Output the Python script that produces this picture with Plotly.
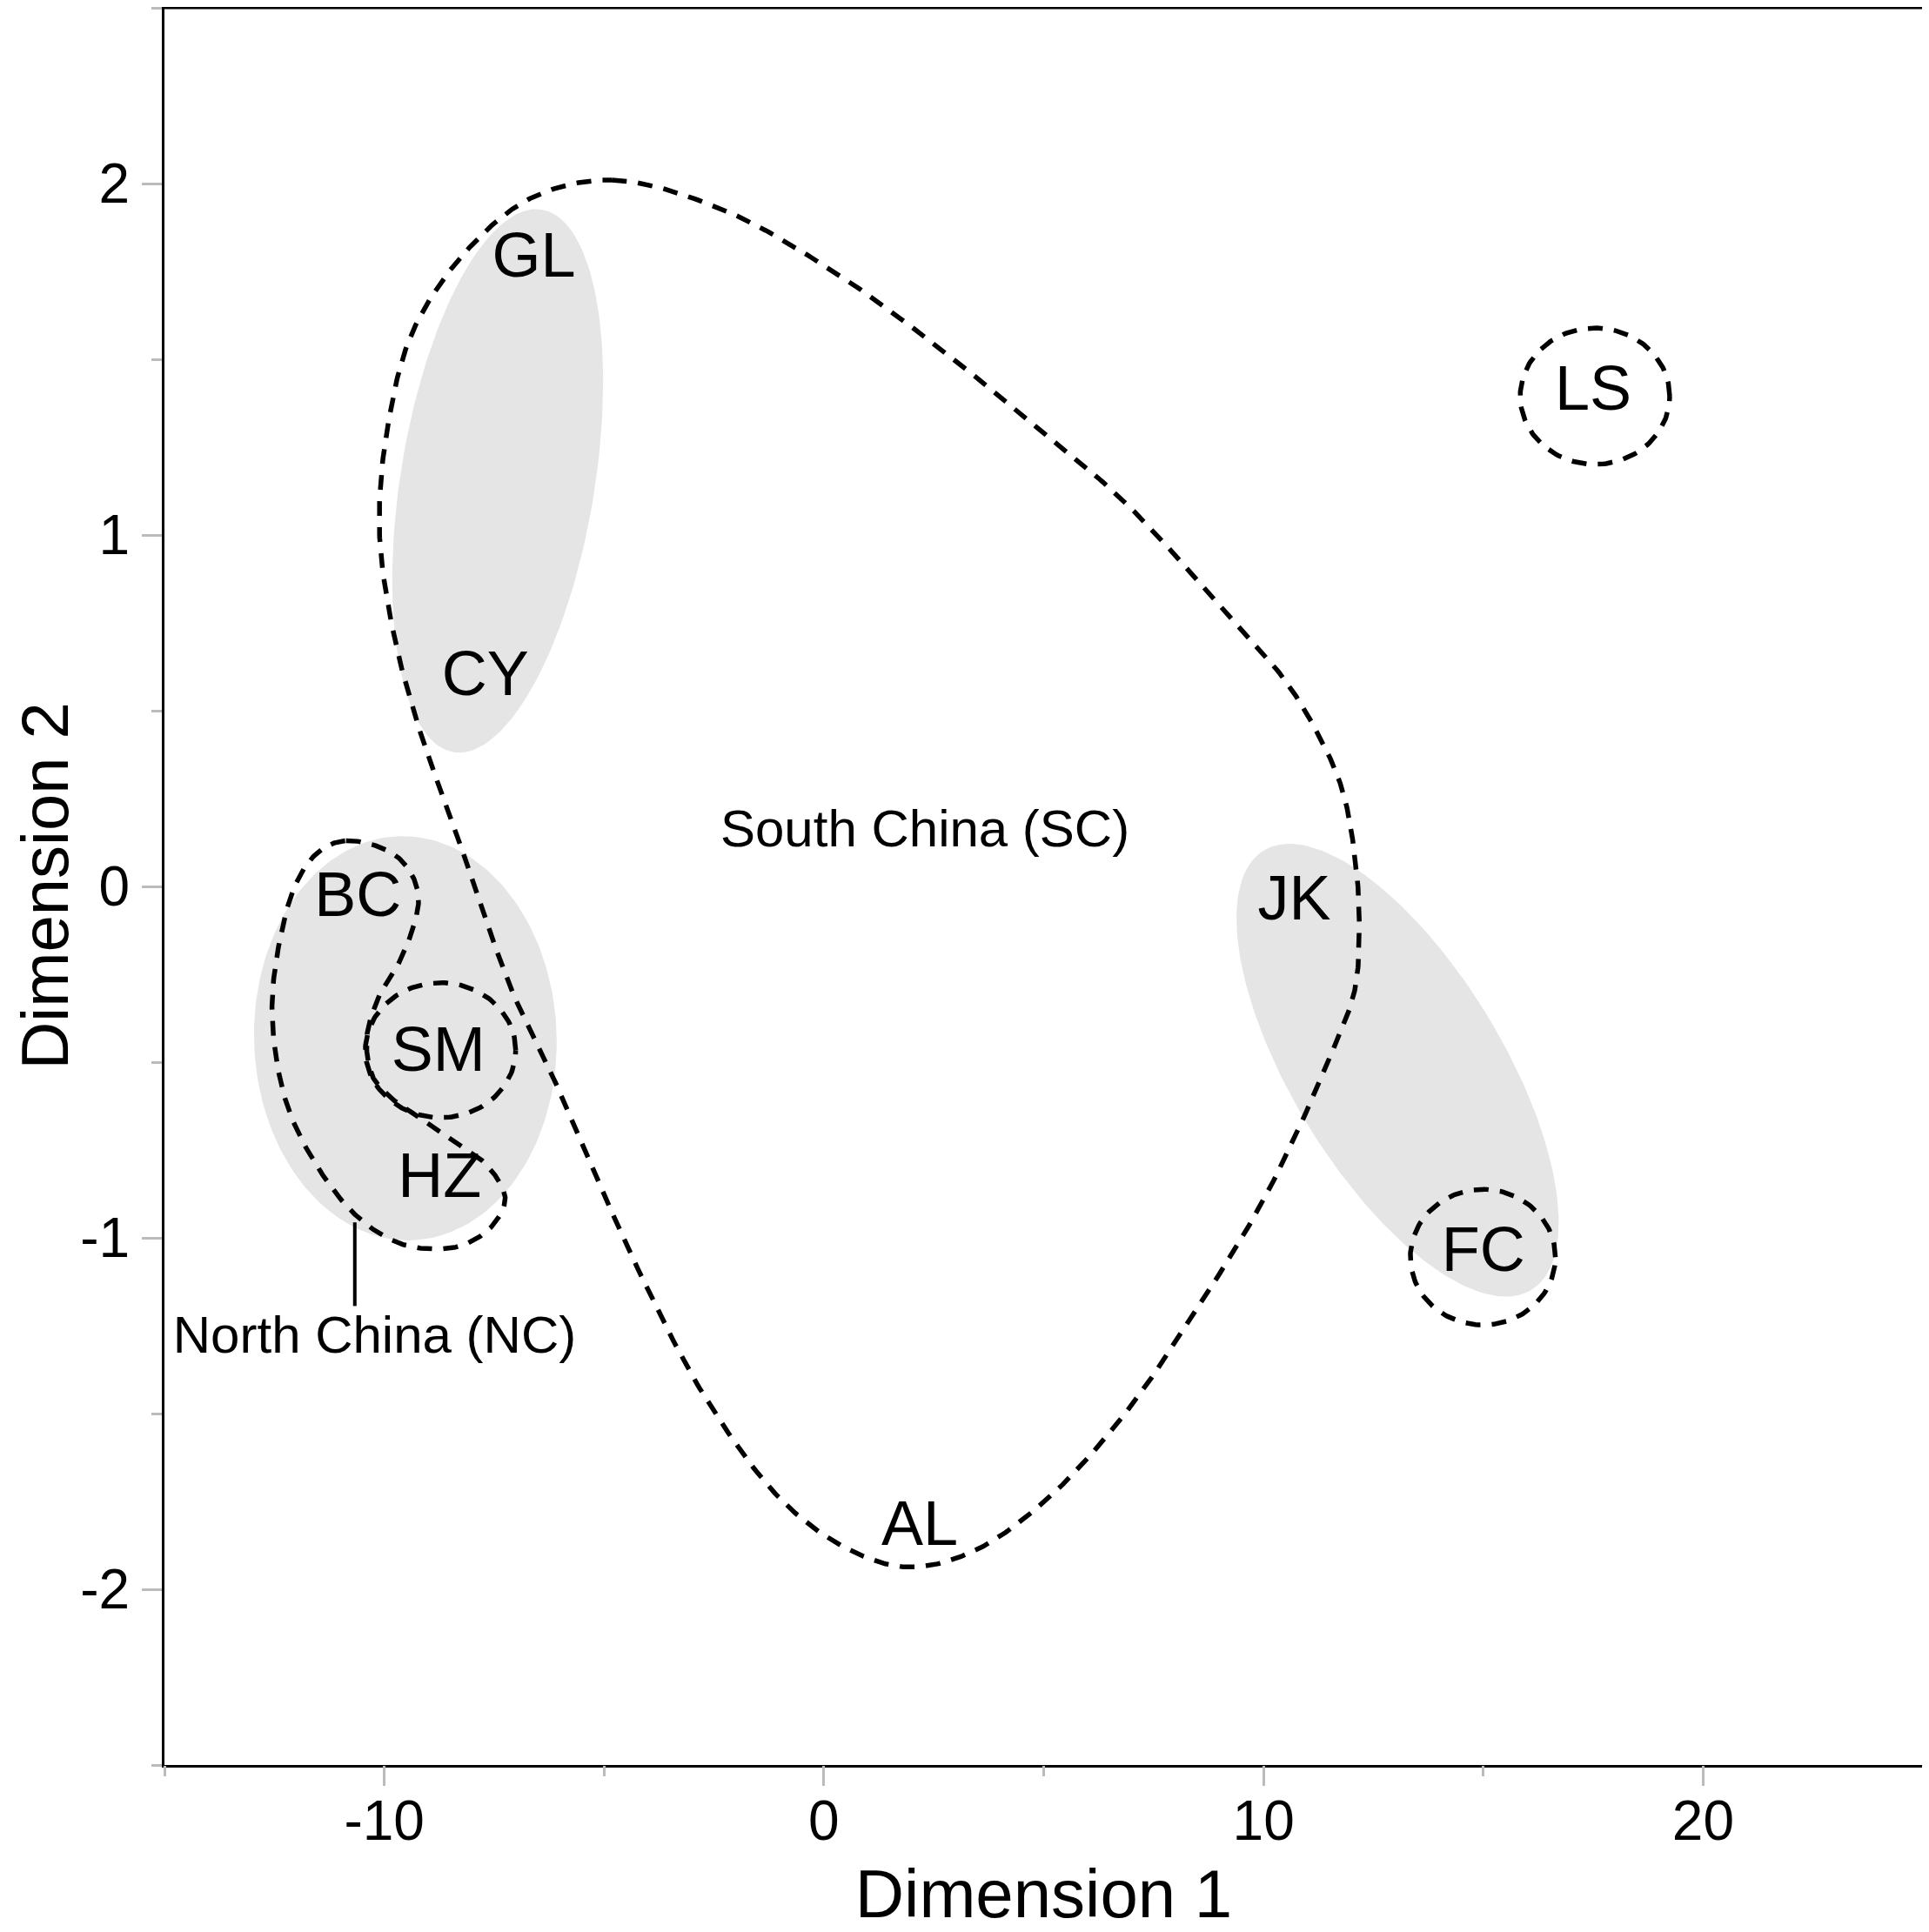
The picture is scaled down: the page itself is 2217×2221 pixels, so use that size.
import numpy as np
import plotly.graph_objects as go

# sample labels at their positions on the two dimensions
labels = ["GL", "CY", "LS", "BC", "JK", "SM", "HZ", "FC", "AL"]
dim1 = [-6.6, -7.7, 17.5, -10.6, 10.7, -8.77, -8.74, 15.0, 2.18]
dim2 = [1.78, 0.59, 1.40, -0.04, -0.05, -0.48, -0.84, -1.05, -1.83]

# region names
region_names = ["South China (SC)", "North China (NC)"]
region_x = [2.3, -10.22]
region_y = [0.15, -1.29]

# grey ellipses: centre and two conjugate half-axis vectors (data units)
grey_cx = [-7.42, -9.52, 13.05]
grey_cy = [1.154, -0.432, -0.523]
grey_ax = [1.0, -0.14, 3.045]
grey_ay = [0.772, 0.575, -0.625]
grey_bx = [2.18, 3.44, 2.04]
grey_by = [-0.044, 0.013, 0.156]

# small dashed circles (LS, FC, SM)
circ_cx = [17.54, 14.99, -8.72]
circ_cy = [1.395, -1.055, -0.466]
circ_rx = [1.70, 1.65, 1.71]
circ_ry = [0.194, 0.193, 0.192]

# South China dashed outline
sc_x = [-4.82, -2.38, 0.03, 2.44, 4.71, 6.83, 9.0, 10.48, 11.27, 11.79, 12.08, 12.18,
        12.08, 11.65, 10.12, 8.55, 6.79, 5.02, 3.43, 2.02, 0.78, -0.81, -2.57, -4.34,
        -5.91, -7.06, -8.38, -9.19, -9.80, -10.11, -9.94, -9.35, -8.12, -6.64]
sc_y = [2.01, 1.93, 1.765, 1.55, 1.32, 1.095, 0.80, 0.588, 0.427, 0.276, 0.085, -0.103,
        -0.293, -0.444, -0.864, -1.19, -1.51, -1.75, -1.89, -1.937, -1.90, -1.765, -1.48, -1.06,
        -0.61, -0.308, 0.158, 0.442, 0.726, 1.01, 1.295, 1.58, 1.81, 1.96]

# North China dashed outline
nc_x = [-10.87, -9.89, -9.41, -9.22, -9.61, -10.03, -10.39, -10.28, -9.86, -9.22,
        -8.57, -7.70, -7.25, -7.51, -8.15, -8.88, -9.75, -10.67, -11.60, -12.24,
        -12.55, -12.41, -11.99, -11.46]
nc_y = [0.13, 0.10, 0.042, -0.042, -0.204, -0.288, -0.421, -0.537, -0.600, -0.656,
        -0.712, -0.789, -0.884, -0.961, -1.018, -1.032, -1.011, -0.933, -0.782, -0.611,
        -0.375, -0.175, 0.014, 0.102]

# leader line for the NC label
lead_x = [-10.67, -10.67]
lead_y = [-0.956, -1.194]

# axis ticks
x_ticks = [-10, 0, 10, 20]
x_ticktext = ["-10", "0", "10", "20"]
x_minor = [-15, -5, 5, 15, 25]
y_ticks = [-2, -1, 0, 1, 2]
y_ticktext = ["-2", "-1", "0", "1", "2"]
y_minor = [-2.5, -1.5, -0.5, 0.5, 1.5, 2.5]

FONT = "Liberation Sans, Arial, sans-serif"
GREY = "#e5e5e5"
TICKC = "#bbbbbb"
DASH = "17px,13px"


def closed_spline(px, py, n=30, sx=50.55, sy=404.2):
    # closed centripetal Catmull-Rom, worked out in screen-like units
    p = np.column_stack([np.array(px) * sx, np.array(py) * sy])
    m = len(p)
    out = []
    for i in range(m):
        p0, p1, p2, p3 = p[i - 1], p[i], p[(i + 1) % m], p[(i + 2) % m]
        t0 = 0.0
        t1 = t0 + np.linalg.norm(p1 - p0) ** 0.5
        t2 = t1 + np.linalg.norm(p2 - p1) ** 0.5
        t3 = t2 + np.linalg.norm(p3 - p2) ** 0.5
        t = np.linspace(t1, t2, n, endpoint=False)[:, None]
        a1 = (t1 - t) / (t1 - t0) * p0 + (t - t0) / (t1 - t0) * p1
        a2 = (t2 - t) / (t2 - t1) * p1 + (t - t1) / (t2 - t1) * p2
        a3 = (t3 - t) / (t3 - t2) * p2 + (t - t2) / (t3 - t2) * p3
        b1 = (t2 - t) / (t2 - t0) * a1 + (t - t0) / (t2 - t0) * a2
        b2 = (t3 - t) / (t3 - t1) * a2 + (t - t1) / (t3 - t1) * a3
        out.append((t2 - t) / (t2 - t1) * b1 + (t - t1) / (t2 - t1) * b2)
    out = np.vstack(out + [p[:1]])
    return out[:, 0] / sx, out[:, 1] / sy


theta = np.linspace(0, 2 * np.pi, 200)
fig = go.Figure()

for i in range(len(grey_cx)):
    ex = grey_cx[i] + grey_ax[i] * np.cos(theta) + grey_bx[i] * np.sin(theta)
    ey = grey_cy[i] + grey_ay[i] * np.cos(theta) + grey_by[i] * np.sin(theta)
    fig.add_trace(go.Scatter(x=ex, y=ey, mode="lines", fill="toself", fillcolor=GREY,
                             line=dict(width=0, color=GREY), hoverinfo="skip"))

for i in range(len(circ_cx)):
    cx = circ_cx[i] + circ_rx[i] * np.cos(theta)
    cy = circ_cy[i] + circ_ry[i] * np.sin(theta)
    fig.add_trace(go.Scatter(x=cx, y=cy, mode="lines",
                             line=dict(color="black", width=5.5, dash=DASH), hoverinfo="skip"))

for px, py in [(sc_x, sc_y), (nc_x, nc_y)]:
    sx, sy = closed_spline(px, py)
    fig.add_trace(go.Scatter(x=sx, y=sy, mode="lines",
                             line=dict(color="black", width=5.5, dash=DASH), hoverinfo="skip"))

fig.add_trace(go.Scatter(x=lead_x, y=lead_y, mode="lines",
                         line=dict(color="black", width=4), hoverinfo="skip"))

fig.add_trace(go.Scatter(x=dim1, y=dim2, mode="text", text=labels,
                         textposition="middle center",
                         textfont=dict(family=FONT, size=72, color="black")))
fig.add_trace(go.Scatter(x=region_x, y=region_y, mode="text", text=region_names,
                         textposition="middle center",
                         textfont=dict(family=FONT, size=60, color="black")))

# empty trace so the overlay x axis (long grey ticks) gets drawn
fig.add_trace(go.Scatter(x=[], y=[], xaxis="x2", hoverinfo="skip"))

tickfont = dict(family=FONT, size=64, color="black")

fig.update_layout(
    width=2209, height=2213,
    margin=dict(l=181, r=7, t=1, b=192),
    plot_bgcolor="white", paper_bgcolor="white",
    showlegend=False,
    xaxis=dict(range=[-15, 25], tickvals=x_ticks, ticktext=x_ticktext,
               showgrid=False, zeroline=False, automargin=False,
               showline=True, linecolor="black", linewidth=3, mirror=True,
               ticks="outside", ticklen=2, tickwidth=3, tickcolor=TICKC,
               tickfont=tickfont, ticklabelstandoff=4,
               title=dict(text="Dimension 1", font=dict(family=FONT, size=78, color="black"),
                          standoff=28)),
    xaxis2=dict(range=[-15, 25], overlaying="x", anchor="y", side="bottom",
                tickvals=x_ticks, showticklabels=False,
                showgrid=False, zeroline=False, automargin=False, showline=False,
                ticks="outside", ticklen=23, tickwidth=3, tickcolor=TICKC,
                minor=dict(tickvals=x_minor, ticks="outside", ticklen=12,
                           tickwidth=3, tickcolor=TICKC)),
    yaxis=dict(range=[-2.5, 2.5], tickvals=y_ticks, ticktext=y_ticktext,
               showgrid=False, zeroline=False, automargin=False,
               showline=True, linecolor="black", linewidth=3, mirror=True,
               ticks="outside", ticklen=23, tickwidth=3, tickcolor=TICKC,
               tickfont=tickfont, ticklabelstandoff=1,
               minor=dict(tickvals=y_minor, ticks="outside", ticklen=12,
                          tickwidth=3, tickcolor=TICKC)),
    # top frame line, drawn explicitly
    shapes=[dict(type="line", xref="paper", yref="paper", x0=0, x1=1, y0=1, y1=1,
                 line=dict(color="black", width=3))],
    annotations=[dict(text="Dimension 2", textangle=-90, xref="paper", yref="paper",
                      x=-0.0685, y=0.5, xanchor="center", yanchor="middle", showarrow=False,
                      font=dict(family=FONT, size=76, color="black"))],
)

fig.write_html("out.html")
